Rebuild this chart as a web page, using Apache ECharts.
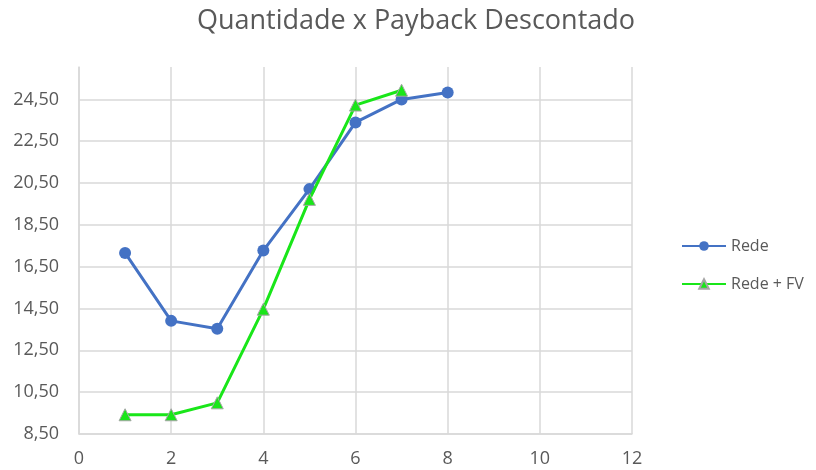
<!DOCTYPE html>
<html>
<head>
<meta charset="utf-8">
<script src="https://cdn.jsdelivr.net/npm/echarts@6/dist/echarts.min.js"></script>
<style>
  html, body { margin: 0; padding: 0; background: #fff; }
  #chart { width: 816px; height: 470px; }
</style>
</head>
<body>
<div id="chart"></div>
<script>
// Quantidade (x) vs payback descontado (y)
const quantidade = [1, 2, 3, 4, 5, 6, 7, 8];
const rede = [17.16, 13.91, 13.53, 17.27, 20.21, 23.40, 24.50, 24.83];
const redeFV = [9.42, 9.42, 9.99, 14.47, 19.72, 24.23, 24.94];

const seriesNames = ['Rede', 'Rede + FV'];

const toPairs = (xs, ys) => ys.map((y, i) => [xs[i], y]);
const fmt = v => v.toFixed(2).replace('.', ',');

const textColor = '#595959';
const gridColor = '#d9d9d9';
const font = '"Open Sans", "Noto Sans", sans-serif';

// y gridlines 8,50 ... 24,50 are drawn; the closing line at the axis max is left out
const yLineColors = [];
for (let i = 0; i < 9; i++) yLineColors.push(gridColor);
yLineColors.push('rgba(0,0,0,0)');

const chart = echarts.init(document.getElementById('chart'));
chart.setOption({
  animation: false,
  backgroundColor: '#fff',
  title: {
    text: 'Quantidade x Payback Descontado',
    left: 411,
    textAlign: 'center',
    top: 3,
    textStyle: { color: textColor, fontSize: 27, fontWeight: 'normal', fontFamily: font }
  },
  legend: {
    orient: 'vertical',
    left: 676,
    top: 233,
    itemGap: 22,
    itemWidth: 44,
    itemHeight: 12,
    textStyle: { color: textColor, fontSize: 16, fontFamily: font },
    data: seriesNames
  },
  grid: { left: 79, right: 184, top: 67, bottom: 36 },
  xAxis: {
    type: 'value',
    min: 0,
    max: 12,
    interval: 2,
    axisLine: { show: true, lineStyle: { color: gridColor, width: 1.5 } },
    axisTick: { show: false },
    axisLabel: { color: textColor, fontSize: 18, fontFamily: font, margin: 16 },
    splitLine: { show: true, lineStyle: { color: gridColor, width: 1.5 } }
  },
  yAxis: {
    type: 'value',
    min: 8.5,
    max: 26.05,
    interval: 2,
    axisLine: { show: true, lineStyle: { color: gridColor, width: 1.5 } },
    axisTick: { show: false },
    axisLabel: {
      color: textColor, fontSize: 18, fontFamily: font, margin: 20,
      showMaxLabel: false,
      formatter: v => (Math.abs((v - 8.5) / 2 - Math.round((v - 8.5) / 2)) < 1e-6 ? fmt(v) : '')
    },
    splitLine: { show: true, lineStyle: { color: yLineColors, width: 1.5 } }
  },
  series: [
    {
      name: seriesNames[0],
      type: 'line',
      data: toPairs(quantidade, rede),
      symbol: 'circle',
      symbolSize: 12,
      lineStyle: { color: '#4472c4', width: 3 },
      itemStyle: { color: '#4472c4' },
      z: 2
    },
    {
      name: seriesNames[1],
      type: 'line',
      data: toPairs(quantidade, redeFV),
      symbol: 'triangle',
      symbolSize: 12,
      lineStyle: { color: '#19e619', width: 3 },
      itemStyle: { color: '#19e619', borderColor: '#a5a5a5', borderWidth: 1 },
      z: 3
    }
  ]
});
</script>
</body>
</html>
